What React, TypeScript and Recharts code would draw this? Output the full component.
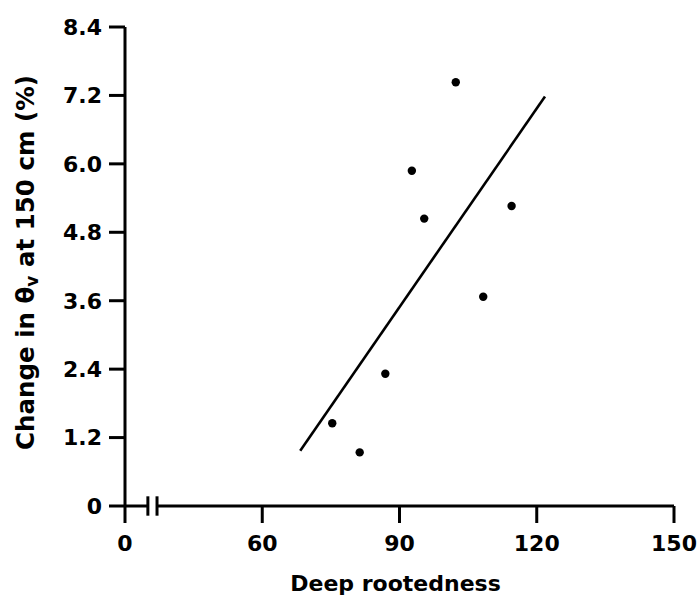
import React from "react";
import { ScatterChart, Scatter, XAxis, YAxis, ReferenceLine } from "recharts";

// Observed points: deep rootedness vs change in soil water content at 150 cm
const rootedness = [102.3, 92.7, 95.4, 114.5, 108.3, 86.9, 75.3, 81.3];
const changeTheta = [7.43, 5.88, 5.04, 5.26, 3.67, 2.32, 1.45, 0.94];

// Fitted regression line end points
const fitX = [68.3, 121.8];
const fitY = [0.97, 7.18];

// Axis ticks (the x axis is broken: the first tick stands for 0)
const xTicks = [30, 60, 90, 120, 150];
const xTickLabels = ["0", "60", "90", "120", "150"];
const yTicks = [0, 1.2, 2.4, 3.6, 4.8, 6.0, 7.2, 8.4];

const points = rootedness.map((x, i) => ({ x, y: changeTheta[i] }));
const fitLine = fitX.map((x, i) => ({ x, y: fitY[i] }));

const FONT = "'DejaVu Sans', sans-serif";
const tickStyle = { fontFamily: FONT, fontWeight: 700, fontSize: 22, fill: "#000" };

const Dot = (props: any) => <circle cx={props.cx} cy={props.cy} r={4.2} fill="#000" />;
const NoDot = () => <g />;

const YLabel = (props: any) => {
  const vb = props.viewBox || { x: 0, y: 0, width: 0, height: 0 };
  const cx = vb.x;
  const cy = vb.y + vb.height / 2 - 4;
  return (
    <text
      x={cx}
      y={cy}
      transform={`rotate(-90 ${cx} ${cy})`}
      textAnchor="middle"
      dominantBaseline="central"
      fontFamily={FONT}
      fontWeight={700}
      fontSize={24.5}
      fill="#000"
    >
      Change in θ
      <tspan fontSize={17} dy={7}>v</tspan>
      <tspan dy={-7}> at 150 cm (%)</tspan>
    </text>
  );
};

const XLabel = (props: any) => {
  const vb = props.viewBox || { x: 0, y: 0, width: 0, height: 0 };
  return (
    <text
      x={vb.x + vb.width / 2 - 4}
      y={591}
      textAnchor="middle"
      fontFamily={FONT}
      fontWeight={700}
      fontSize={22}
      fill="#000"
    >
      Deep rootedness
    </text>
  );
};

export default function App() {
  return (
    <div style={{ position: "absolute", left: 0, top: 0, background: "#fff" }}>
      <ScatterChart width={697} height={600} margin={{ top: 27, right: 23, left: 25, bottom: 34 }}>
        <XAxis
          type="number"
          dataKey="x"
          domain={[30, 150]}
          ticks={xTicks}
          tickFormatter={(v: number) => xTickLabels[xTicks.indexOf(v)] ?? String(v)}
          axisLine={false}
          tickLine={{ stroke: "#000", strokeWidth: 3 }}
          tickSize={17}
          tickMargin={12}
          tick={tickStyle}
          height={60}
          allowDataOverflow
          label={{ content: XLabel }}
        />
        <YAxis
          type="number"
          dataKey="y"
          domain={[0, 8.4]}
          ticks={yTicks}
          tickFormatter={(v: number) => (v === 0 ? "0" : v.toFixed(1))}
          axisLine={{ stroke: "#000", strokeWidth: 3 }}
          tickLine={{ stroke: "#000", strokeWidth: 3 }}
          tickSize={16}
          tickMargin={7}
          tick={tickStyle}
          width={100}
          allowDataOverflow
          label={{ content: YLabel }}
        />
        {/* broken x axis line */}
        <ReferenceLine
          segment={[{ x: 30, y: 0 }, { x: 35, y: 0 }]}
          stroke="#000"
          strokeWidth={3}
          ifOverflow="visible"
        />
        <ReferenceLine
          segment={[{ x: 37, y: 0 }, { x: 150, y: 0 }]}
          stroke="#000"
          strokeWidth={3}
          ifOverflow="visible"
        />
        <ReferenceLine
          segment={[{ x: 35, y: -0.17 }, { x: 35, y: 0.17 }]}
          stroke="#000"
          strokeWidth={3}
          ifOverflow="visible"
        />
        <ReferenceLine
          segment={[{ x: 37, y: -0.17 }, { x: 37, y: 0.17 }]}
          stroke="#000"
          strokeWidth={3}
          ifOverflow="visible"
        />
        <Scatter
          data={fitLine}
          line={{ stroke: "#000", strokeWidth: 2.6 }}
          shape={NoDot}
          isAnimationActive={false}
        />
        <Scatter data={points} shape={Dot} fill="#000" isAnimationActive={false} />
      </ScatterChart>
    </div>
  );
}
